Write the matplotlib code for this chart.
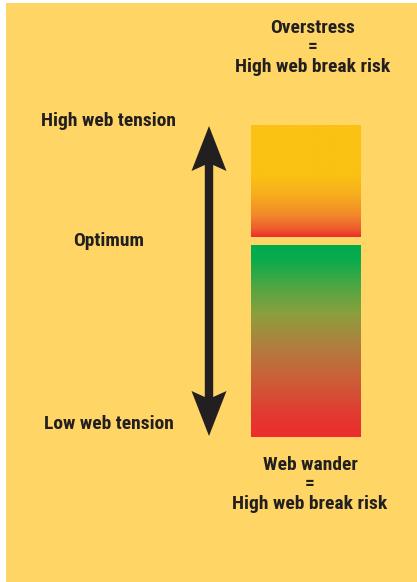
import numpy as np
import matplotlib
matplotlib.use("Agg")
import matplotlib.pyplot as plt
from matplotlib import font_manager
from matplotlib.colors import LinearSegmentedColormap
from matplotlib.patches import Rectangle, Polygon

# colour stops of the two gradient bars (top -> bottom)
upper_stops = [0.0, 0.45, 0.62, 0.80, 0.92, 1.0]
upper_colors = ["#FAC312", "#FAC213", "#F7AE1C", "#F28A2A", "#EE5F2E", "#EA2E2F"]
lower_stops = [0.0, 0.08, 0.22, 0.36, 0.52, 0.70, 0.88, 1.0]
lower_colors = ["#00AC4F", "#0BAB4D", "#52A643", "#8C9F3D", "#B07F3F", "#CB5F38", "#E23A31", "#EC2D2F"]

left_labels = ["High web tension", "Optimum", "Low web tension"]
top_label = ["Overstress", "=", "High web break risk"]
bottom_label = ["Web wander", "=", "High web break risk"]

BG = "#FFD666"
INK = "#231F20"

# pick a narrow bold face if one is around
names = {f.name for f in font_manager.fontManager.ttflist}
cands = ['Liberation Sans Narrow', 'DejaVu Sans Condensed', 'Roboto Condensed',
         'Open Sans Condensed', 'Noto Sans Condensed']
narrow = [n for n in cands if n in names]
plt.rcParams['font.family'] = narrow + ['DejaVu Sans']

fig = plt.figure(figsize=(4.17, 5.82), dpi=100)
ax = fig.add_axes([0, 0, 1, 1])
ax.set_xlim(0, 417)
ax.set_ylim(582, 0)
ax.axis("off")

ax.add_patch(Rectangle((6, 3), 420, 590, facecolor=BG, edgecolor="none"))


def grad_bar(x0, x1, y0, y1, stops, colors):
    cmap = LinearSegmentedColormap.from_list("g", list(zip(stops, colors)))
    grad = np.linspace(0, 1, 256).reshape(-1, 1)
    ax.imshow(grad, cmap=cmap, extent=(x0, x1, y1, y0), aspect="auto",
              interpolation="bilinear", zorder=2)


grad_bar(251, 361, 125, 237, upper_stops, upper_colors)
grad_bar(251, 361, 245, 437, lower_stops, lower_colors)
ax.set_xlim(0, 417)
ax.set_ylim(582, 0)

# double-headed arrow
cx, top, bot = 209, 126, 436
hw, hl, sw, sweep = 17.5, 45, 4.2, 6
pts = [
    (cx, top), (cx + hw, top + hl), (cx + sw, top + hl - sweep),
    (cx + sw, bot - hl + sweep), (cx + hw, bot - hl), (cx, bot),
    (cx - hw, bot - hl), (cx - sw, bot - hl + sweep),
    (cx - sw, top + hl - sweep), (cx - hw, top + hl),
]
ax.add_patch(Polygon(pts, closed=True, facecolor=INK, edgecolor="none", zorder=3))

fs = 14 if narrow else 10.5
kw = dict(color=INK, fontsize=fs, fontweight="bold", ha="center", va="center")
for y, t in zip([121, 241, 424], left_labels):
    ax.text(109, y, t, **kw)
for y, t in zip([28, 47, 67], top_label):
    ax.text(313, y, t, **kw)
for y, t in zip([465, 484, 504], bottom_label):
    ax.text(310, y, t, **kw)

fig.savefig("out.png", dpi=100, facecolor="white")
